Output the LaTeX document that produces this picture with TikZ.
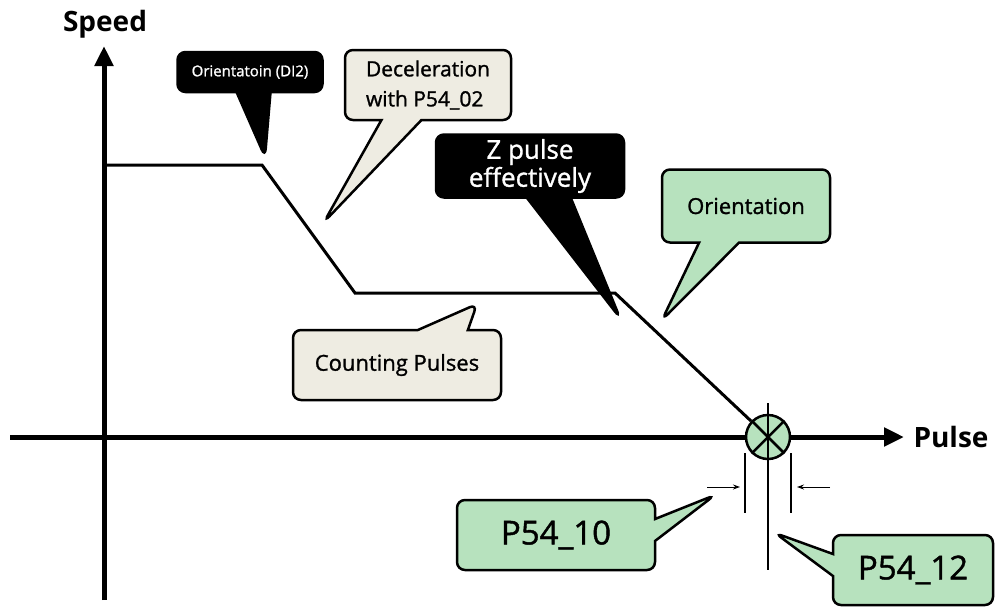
\documentclass[tikz,border=0pt]{standalone}
\usepackage{fontspec}
\setmainfont{Open Sans}
\newfontfamily\notefont{Open Sans}[FakeBold=1.2]
\usetikzlibrary{arrows.meta,shapes.callouts}
\definecolor{notegreen}{RGB}{183,226,190}
\definecolor{notebeige}{RGB}{238,236,226}
\tikzset{
  axis/.style={line width=5pt,-{Triangle[length=20pt,width=18pt]}},
  speedline/.style={line width=3pt},
  callbox/.style={rectangle callout,draw,line width=2.5pt,rounded corners=8pt,inner sep=0pt,align=center},
  darkbox/.style={callbox,fill=black,text=white},
  greenbox/.style={callbox,fill=notegreen},
  beigebox/.style={callbox,fill=notebeige},
  limitline/.style={line width=1.2pt},
  limitarrow/.style={line width=1pt,-{Stealth[length=7pt,width=5pt]}}
}
\begin{document}
\begin{tikzpicture}[x=1pt,y=-1pt]
    \useasboundingbox (0,0) rectangle (998,608);

    % axes
    \coordinate (ybot) at (104,600);
    \coordinate (ytop) at (104,46);
    \coordinate (xleft) at (10,437);
    \coordinate (xright) at (904,437);
    \draw[axis] (ybot) -- (ytop);
    \draw[axis] (xleft) -- (xright);
    \node[font=\bfseries\fontsize{28}{32}\selectfont] (speed) at (105,24) {Speed};
    \node[font=\bfseries\fontsize{28}{32}\selectfont] (pulse) at (951,437) {Pulse};

    % speed profile
    \coordinate (v0) at (104,165);
    \coordinate (v1) at (262,165);
    \coordinate (v2) at (355,293);
    \coordinate (v3) at (615,293);
    \node[circle, draw, line width=2.5pt, fill=notegreen, minimum size=44pt, inner sep=0pt] (zc) at (768,437) {};
    \draw[speedline] (v0) -- (v1) -- (v2) -- (v3) -- (zc);
    \draw[line width=2.5pt] (zc.north west) -- (zc.south east) (zc.north east) -- (zc.south west);

    % window around the stop point
    \coordinate (ltop) at (745,453);
    \coordinate (lbot) at (745,513);
    \coordinate (rtop) at (791,453);
    \coordinate (rbot) at (791,513);
    \coordinate (ctop) at (768,403);
    \coordinate (cbot) at (768,570);
    \draw[limitline] (ltop) -- (lbot);
    \draw[limitline] (rtop) -- (rbot);
    \draw[limitline] (ctop) -- (cbot);
    \coordinate (la) at (707,487);
    \coordinate (lb) at (740,487);
    \coordinate (ra) at (830,487);
    \coordinate (rb) at (797,487);
    \draw[limitarrow] (la) -- (lb);
    \draw[limitarrow] (ra) -- (rb);

    % callouts
    \coordinate (tipdi) at (265,157);
    \coordinate (tipdec) at (324,222);
    \coordinate (tipz) at (620,318);
    \coordinate (tipori) at (662,320);
    \coordinate (tipcnt) at (477,304);
    \coordinate (tipten) at (715,495);
    \coordinate (tiptwelve) at (775,533);

    \node[darkbox, minimum width=145pt, minimum height=40pt, callout absolute pointer={(tipdi)}, callout pointer width=34pt,
          font=\notefont\fontsize{15}{18}\selectfont] (dimark) at (250,72) {Orientatoin (DI2)};
    \node[beigebox, minimum width=166pt, minimum height=70pt, callout absolute pointer={(tipdec)}, callout pointer width=40pt,
          align=left, font=\notefont\fontsize{21}{30}\selectfont] (decel) at (428,85) {Deceleration\\with P54\_02};
    \node[darkbox, minimum width=188pt, minimum height=63pt, callout absolute pointer={(tipz)}, callout pointer width=44pt,
          font=\notefont\fontsize{26}{28}\selectfont] (zpulse) at (530,166) {Z pulse\\effectively};
    \node[greenbox, minimum width=168pt, minimum height=73pt, callout absolute pointer={(tipori)}, callout pointer width=40pt,
          font=\notefont\fontsize{22}{26}\selectfont] (orient) at (746,206) {Orientation};
    \node[beigebox, minimum width=208pt, minimum height=70pt, callout absolute pointer={(tipcnt)}, callout pointer width=50pt,
          font=\notefont\fontsize{22}{26}\selectfont] (count) at (397,365) {Counting Pulses};
    \node[greenbox, minimum width=198pt, minimum height=70pt, callout absolute pointer={(tipten)}, callout pointer width=22pt,
          font=\notefont\fontsize{33}{38}\selectfont] (pten) at (556,535) {P54\_10};
    \node[greenbox, minimum width=160pt, minimum height=70pt, callout absolute pointer={(tiptwelve)}, callout pointer width=22pt,
          font=\notefont\fontsize{33}{38}\selectfont] (ptwelve) at (913,570) {P54\_12};

\end{tikzpicture}
\end{document}
